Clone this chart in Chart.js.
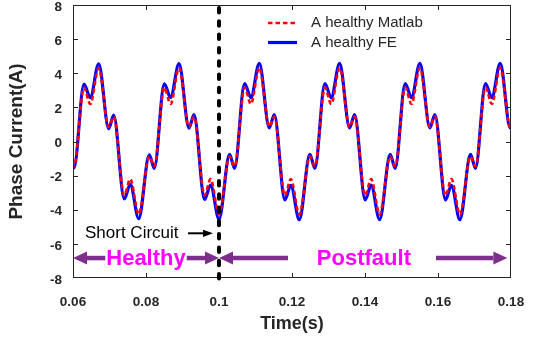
<!DOCTYPE html>
<html>
<head>
<meta charset="utf-8">
<script src="https://cdn.jsdelivr.net/npm/chart.js@4.4.1/dist/chart.umd.min.js"></script>
<style>
  html, body { margin: 0; padding: 0; background: #fff; }
</style>
</head>
<body>
<canvas id="phaseChart" width="544" height="341"></canvas>
<script>
/* Phase A current of the healthy machine: analytic (Matlab) model vs FE run.
   Samples are the turning points of the waveform; the line is smoothed
   between them with monotone cubic interpolation. */

const timeS = [
  0.05890,
  0.06027, 0.06301, 0.06474, 0.06704, 0.06978, 0.07115, 0.07405, 0.07569, 0.07800, 0.08090,
  0.08227, 0.08501, 0.08674, 0.08904, 0.09178, 0.09315, 0.09605, 0.09769, 0.10000, 0.10290,
  0.10427, 0.10701, 0.10874, 0.11104, 0.11378, 0.11515, 0.11805, 0.11969, 0.12200, 0.12490,
  0.12627, 0.12901, 0.13074, 0.13304, 0.13578, 0.13715, 0.14005, 0.14169, 0.14400, 0.14690,
  0.14827, 0.15101, 0.15274, 0.15504, 0.15778, 0.15915, 0.16205, 0.16369, 0.16600, 0.16890,
  0.17027, 0.17301, 0.17474, 0.17704, 0.17978, 0.18115
];

const currentMatlab = [
  -0.88,
  -1.45, 3.15, 2.20, 4.30, 0.85, 1.45, -3.15, -2.20, -4.25, -0.88,
  -1.45, 3.15, 2.20, 4.30, 0.85, 1.45, -3.15, -2.20, -4.25, -0.88,
  -1.45, 3.16, 2.20, 4.32, 0.86, 1.46, -3.16, -2.20, -4.27, -0.88,
  -1.45, 3.16, 2.20, 4.32, 0.86, 1.46, -3.16, -2.20, -4.27, -0.88,
  -1.45, 3.16, 2.20, 4.32, 0.86, 1.46, -3.16, -2.20, -4.27, -0.88,
  -1.45, 3.16, 2.20, 4.32, 0.86, 1.46
];

const currentFE = [
  -0.78,
  -1.55, 3.36, 2.57, 4.55, 0.75, 1.55, -3.37, -2.50, -4.52, -0.78,
  -1.57, 3.38, 2.58, 4.56, 0.78, 1.57, -3.40, -2.55, -4.55, -0.76,
  -1.58, 3.40, 2.57, 4.58, 0.80, 1.58, -3.42, -2.57, -4.58, -0.75,
  -1.57, 3.40, 2.56, 4.58, 0.80, 1.58, -3.42, -2.56, -4.58, -0.76,
  -1.57, 3.40, 2.57, 4.58, 0.80, 1.58, -3.42, -2.57, -4.58, -0.76,
  -1.57, 3.40, 2.57, 4.58, 0.80, 1.58
];

const seriesLabels = ['A healthy Matlab', 'A healthy FE'];
const xTickValues = [0.06, 0.08, 0.1, 0.12, 0.14, 0.16, 0.18];
const yTickValues = [-8, -6, -4, -2, 0, 2, 4, 6, 8];
const faultTime = 0.1;

// annotation placement, in axis units
const notes = {
  shortCircuit: { text: 'Short Circuit', x: 0.06329, y: -5.38, arrowFrom: 0.0915, arrowTo: 0.09836 },
  healthy: { text: 'Healthy', from: 0.06, to: 0.1, y: -6.83 },
  postfault: { text: 'Postfault', from: 0.1, tailA: 0.1189, mid: 0.1397, tailB: 0.15945, to: 0.179, y: -6.83 }
};

const AXIS_COLOR = '#262626';
const PURPLE = '#7e2f8e';
const MAGENTA = '#ff00ff';
const FONT = '"Liberation Sans", Arial, Helvetica, sans-serif';

const toPoints = vals => vals.map((v, i) => ({ x: timeS[i], y: v }));

function drawArrow(ctx, x0, x1, yy, width, headLen, headHalf) {
  const dir = Math.sign(x1 - x0);
  ctx.lineWidth = width;
  ctx.beginPath();
  ctx.moveTo(x0, yy);
  ctx.lineTo(x1 - dir * headLen, yy);
  ctx.stroke();
  ctx.beginPath();
  ctx.moveTo(x1, yy);
  ctx.lineTo(x1 - dir * headLen, yy - headHalf);
  ctx.lineTo(x1 - dir * headLen, yy + headHalf);
  ctx.closePath();
  ctx.fill();
}

const overlayPlugin = {
  id: 'overlay',
  afterDatasetsDraw(chart) {
    const { ctx, chartArea: a, scales: { x, y } } = chart;
    ctx.save();

    // box with inward ticks on all four sides
    ctx.strokeStyle = AXIS_COLOR;
    ctx.lineWidth = 1;
    ctx.strokeRect(a.left + 0.5, a.top + 0.5, a.right - a.left - 1, a.bottom - a.top - 1);
    ctx.beginPath();
    xTickValues.slice(1, -1).forEach(v => {
      const px = Math.round(x.getPixelForValue(v)) + 0.5;
      ctx.moveTo(px, a.bottom); ctx.lineTo(px, a.bottom - 5);
      ctx.moveTo(px, a.top); ctx.lineTo(px, a.top + 5);
    });
    yTickValues.slice(1, -1).forEach(v => {
      const py = Math.round(y.getPixelForValue(v)) + 0.5;
      ctx.moveTo(a.left, py); ctx.lineTo(a.left + 5, py);
      ctx.moveTo(a.right, py); ctx.lineTo(a.right - 5, py);
    });
    ctx.stroke();

    // fault instant
    const fx = x.getPixelForValue(faultTime);
    ctx.strokeStyle = '#000';
    ctx.lineWidth = 4;
    ctx.lineCap = 'round';
    ctx.setLineDash([4.5, 8.8]);
    ctx.beginPath();
    ctx.moveTo(fx, a.top + 3);
    ctx.lineTo(fx, a.bottom + 3);
    ctx.stroke();
    ctx.setLineDash([]);
    ctx.lineCap = 'butt';

    // short circuit label
    const sc = notes.shortCircuit;
    const scY = y.getPixelForValue(sc.y);
    ctx.fillStyle = '#000';
    ctx.font = '17px ' + FONT;
    ctx.textBaseline = 'middle';
    ctx.textAlign = 'left';
    ctx.fillText(sc.text, x.getPixelForValue(sc.x), scY);
    ctx.strokeStyle = '#000';
    drawArrow(ctx, x.getPixelForValue(sc.arrowFrom), x.getPixelForValue(sc.arrowTo), scY, 2, 10, 3.6);

    // healthy / postfault spans
    ctx.strokeStyle = PURPLE;
    ctx.fillStyle = PURPLE;
    ctx.font = 'bold 22px ' + FONT;
    ctx.textAlign = 'center';

    const h = notes.healthy;
    const hy = y.getPixelForValue(h.y);
    const hx0 = x.getPixelForValue(h.from), hx1 = x.getPixelForValue(h.to);
    const hmid = (hx0 + hx1) / 2;
    const hw = ctx.measureText(h.text).width;
    drawArrow(ctx, hmid - hw / 2 - 1, hx0, hy, 4.5, 14, 6.5);
    drawArrow(ctx, hmid + hw / 2 + 1, hx1, hy, 4.5, 14, 6.5);
    ctx.fillStyle = MAGENTA;
    ctx.fillText(h.text, hmid, hy + 1);

    const p = notes.postfault;
    const py = y.getPixelForValue(p.y);
    ctx.fillStyle = PURPLE;
    drawArrow(ctx, x.getPixelForValue(p.tailA), x.getPixelForValue(p.from), py, 4.5, 14, 6.5);
    drawArrow(ctx, x.getPixelForValue(p.tailB), x.getPixelForValue(p.to), py, 4.5, 14, 6.5);
    ctx.fillStyle = MAGENTA;
    ctx.fillText(p.text, x.getPixelForValue(p.mid), py + 1);

    // legend, top right inside the axes
    ctx.font = '15px ' + FONT;
    ctx.textAlign = 'left';
    chart.data.datasets.forEach((ds, i) => {
      const ly = a.top + 18 + i * 19.5;
      ctx.strokeStyle = ds.borderColor;
      ctx.lineWidth = ds.borderWidth;
      ctx.setLineDash(ds.borderDash || []);
      ctx.beginPath();
      ctx.moveTo(268, ly);
      ctx.lineTo(297, ly);
      ctx.stroke();
      ctx.setLineDash([]);
      ctx.fillStyle = AXIS_COLOR;
      ctx.fillText(ds.label, 311, ly);
    });

    ctx.restore();
  }
};

new Chart(document.getElementById('phaseChart'), {
  type: 'line',
  data: {
    datasets: [
      {
        label: seriesLabels[0],
        data: toPoints(currentMatlab),
        borderColor: '#ff0000',
        borderWidth: 2.6,
        borderDash: [4.5, 3],
        cubicInterpolationMode: 'monotone',
        pointRadius: 0,
        fill: false,
        clip: 0
      },
      {
        label: seriesLabels[1],
        data: toPoints(currentFE),
        borderColor: '#0000ff',
        borderWidth: 3.2,
        cubicInterpolationMode: 'monotone',
        pointRadius: 0,
        fill: false,
        clip: 0
      }
    ]
  },
  options: {
    responsive: false,
    animation: false,
    devicePixelRatio: 1,
    layout: { padding: { top: 5, right: 33, left: 0, bottom: 0 } },
    plugins: { legend: { display: false }, tooltip: { enabled: false } },
    scales: {
      x: {
        type: 'linear',
        min: 0.06,
        max: 0.18,
        afterBuildTicks: s => { s.ticks = xTickValues.map(v => ({ value: v })); },
        afterFit: s => { s.height = 63; s.paddingLeft = 0; s.paddingRight = 0; },
        grid: { display: false, drawTicks: false },
        border: { display: false },
        ticks: {
          color: AXIS_COLOR,
          padding: 16,
          maxRotation: 0,
          autoSkip: false,
          font: { family: FONT, size: 13.5, weight: 'bold' },
          callback: v => String(v)
        },
        title: {
          display: true,
          text: 'Time(s)',
          color: AXIS_COLOR,
          padding: { top: 0, bottom: 6 },
          font: { family: FONT, size: 18, weight: 'bold' }
        }
      },
      y: {
        type: 'linear',
        min: -8,
        max: 8,
        afterBuildTicks: s => { s.ticks = yTickValues.map(v => ({ value: v })); },
        afterFit: s => { s.width = 73; s.paddingTop = 0; s.paddingBottom = 0; },
        grid: { display: false, drawTicks: false },
        border: { display: false },
        ticks: {
          color: AXIS_COLOR,
          padding: 11,
          labelOffset: 2,
          autoSkip: false,
          font: { family: FONT, size: 13.5, weight: 'bold' },
          callback: v => String(v)
        },
        title: {
          display: true,
          text: 'Phase Current(A)',
          color: AXIS_COLOR,
          padding: { top: 5, bottom: 0 },
          font: { family: FONT, size: 19, weight: 'bold' }
        }
      }
    }
  },
  plugins: [overlayPlugin]
});
</script>
</body>
</html>
